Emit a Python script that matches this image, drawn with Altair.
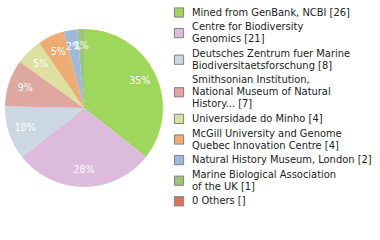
import altair as alt
import pandas as pd

labels = [
    "Mined from GenBank, NCBI [26]",
    "Centre for Biodiversity|Genomics [21]",
    "Deutsches Zentrum fuer Marine|Biodiversitaetsforschung [8]",
    "Smithsonian Institution,|National Museum of Natural|History... [7]",
    "Universidade do Minho [4]",
    "McGill University and Genome|Quebec Innovation Centre [4]",
    "Natural History Museum, London [2]",
    "Marine Biological Association|of the UK [1]",
    "0 Others []",
]
values = [26, 21, 8, 7, 4, 4, 2, 1, 0]
colors = ["#9fd75c", "#dcbbdc", "#cbd8e4", "#dea79f", "#dde09e",
          "#eeac73", "#9cbadf", "#9fc47b", "#de7158"]

df = pd.DataFrame({"label": labels, "value": values, "order": list(range(len(labels)))})
df["nlines"] = [len(s.split("|")) for s in labels]
df["cum_before"] = df["nlines"].cumsum() - df["nlines"]
total = sum(values)

FONT = "DejaVu Sans Condensed"
LINE_H = 12
GAP = 2.6
TOP = 12.5

color_scale = alt.Scale(domain=labels, range=colors)

base = alt.Chart(df).encode(
    theta=alt.Theta("value:Q", stack=True),
    order=alt.Order("order:Q"),
    x=alt.value(84),
    y=alt.value(108),
)

arcs = base.mark_arc(radius=79).encode(
    color=alt.Color("label:N", scale=color_scale, legend=None)
)

text = base.transform_filter("datum.value > 0").transform_calculate(
    pct="floor(datum.value / %d * 100) + '%%'" % total
).mark_text(radius=62, color="white", font=FONT, fontSize=10.5).encode(
    text="pct:N"
)

leg = alt.Chart(df).transform_calculate(
    ytext="%f + datum.cum_before * %f + datum.order * %f" % (TOP, LINE_H, GAP),
).transform_calculate(
    ysym="datum.ytext + (datum.nlines - 1) * %f / 2" % LINE_H,
)

leg_sym = leg.mark_square(size=85, opacity=1, stroke="#808080", strokeWidth=1).encode(
    x=alt.value(179),
    y=alt.Y("ysym:Q", scale=None),
    color=alt.Color("label:N", scale=color_scale, legend=None),
)

leg_txt = leg.mark_text(
    align="left", baseline="middle", font=FONT, fontSize=11,
    lineBreak="|", lineHeight=LINE_H, color="#222222"
).encode(
    x=alt.value(192),
    y=alt.Y("ytext:Q", scale=None),
    text="label:N",
)

chart = alt.layer(arcs, text, leg_sym, leg_txt).properties(
    width=380, height=240, padding=0, autosize=alt.AutoSizeParams(type="none")
).configure_view(stroke=None)

chart.save("out.html", embed_options={"renderer": "svg", "actions": False})
